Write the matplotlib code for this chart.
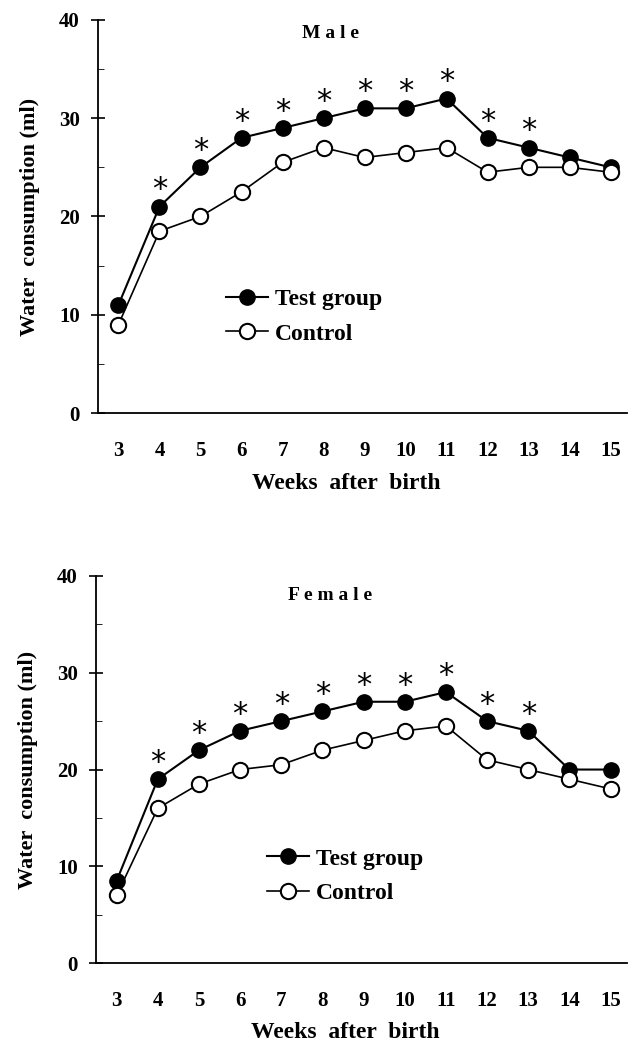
import matplotlib.pyplot as plt

weeks = [3, 4, 5, 6, 7, 8, 9, 10, 11, 12, 13, 14, 15]
male_test = [11, 21, 25, 28, 29, 30, 31, 31, 32, 28, 27, 26, 25]
male_ctrl = [9, 18.5, 20, 22.5, 25.5, 27, 26, 26.5, 27, 24.5, 25, 25, 24.5]
female_test = [8.5, 19, 22, 24, 25, 26, 27, 27, 28, 25, 24, 20, 20]
female_ctrl = [7, 16, 18.5, 20, 20.5, 22, 23, 24, 24.5, 21, 20, 19, 18]
sig_weeks = [4, 5, 6, 7, 8, 9, 10, 11, 12, 13]

plt.rcParams['font.family'] = ['Liberation Serif', 'DejaVu Serif']
plt.rcParams['font.weight'] = 'bold'

fig = plt.figure(figsize=(6.36, 10.47), dpi=100)
ax1 = fig.add_axes([0.154, 0.6055, 0.832, 0.3755])
ax2 = fig.add_axes([0.151, 0.080, 0.835, 0.370])


def panel(ax, test, ctrl, title, leg_xy, title_y):
    ax.plot(weeks, test, color='black', lw=1.5, marker='o', ms=11,
            mfc='black', mec='black', label='Test group')
    ax.plot(weeks, ctrl, color='black', lw=1.2, marker='o', ms=11,
            mfc='white', mec='black', mew=1.5, label='Control')
    for w in sig_weeks:
        v = test[weeks.index(w)]
        ax.text(w, v + 1.7, '*', ha='center', va='center', fontsize=22,
                family='DejaVu Sans', fontweight='normal')
    ax.set_xlim(2.5, 15.4)
    ax.set_ylim(0, 40)
    ax.set_yticks([0, 10, 20, 30, 40])
    ax.set_yticks([5, 15, 25, 35], minor=True)
    ax.set_xticks(weeks)
    ax.tick_params(axis='x', length=0, pad=20, labelsize=15)
    ax.tick_params(axis='y', which='major', direction='inout', length=10,
                   width=1.2, labelsize=15, pad=8)
    ax.tick_params(axis='y', which='minor', direction='in', length=4)
    for s in ['top', 'right']:
        ax.spines[s].set_visible(False)
    ax.spines['left'].set_linewidth(1.3)
    ax.spines['bottom'].set_linewidth(1.3)
    ax.set_ylabel('Water  consumption (ml)', fontsize=16, fontweight='bold',
                  labelpad=14)
    ax.set_xlabel('Weeks  after  birth', fontsize=17, fontweight='bold')
    ax.xaxis.set_label_coords(0.47, -0.152)
    ax.text(0.44, title_y, title, transform=ax.transAxes, ha='center',
            va='center', fontsize=14, fontweight='bold')
    ax.legend(loc='center left', bbox_to_anchor=leg_xy, frameon=False,
              fontsize=17, handlelength=1.75, handletextpad=0.3,
              labelspacing=0.55, borderaxespad=0)


panel(ax1, male_test, male_ctrl, 'M a l e', (0.225, 0.245), 0.965)
panel(ax2, female_test, female_ctrl, 'F e m a l e', (0.305, 0.225), 0.95)

fig.savefig('out.png', dpi=100)
